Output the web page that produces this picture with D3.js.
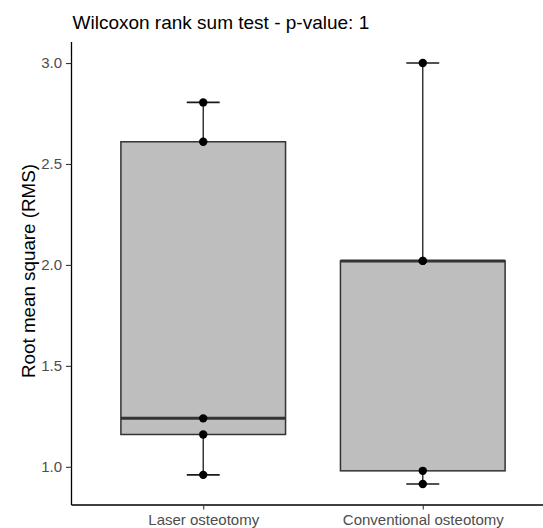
<!DOCTYPE html>
<html>
<head>
<meta charset="utf-8">
<script src="https://cdn.jsdelivr.net/npm/d3@7"></script>
<style>
  body { margin: 0; background: #fff; }
  svg { display: block; font-family: "Liberation Sans", Arial, sans-serif; }
</style>
</head>
<body>
<div id="chart"></div>
<script>
// data
const groups = ["Laser osteotomy", "Conventional osteotomy"];
const laserValues = [0.96, 1.16, 1.24, 2.61, 2.805];
const conventionalValues = [0.915, 0.98, 2.02, 2.02, 3.0];
const yTicks = [1.0, 1.5, 2.0, 2.5, 3.0];
const titleText = "Wilcoxon rank sum test - p-value: 1";
const yLabel = "Root mean square (RMS)";

const width = 543, height = 528;
const margin = {top: 42, left: 71.5, bottom: 505, right: 554.5};

const svg = d3.select("#chart").append("svg")
  .attr("width", width)
  .attr("height", height);

const series = [laserValues, conventionalValues].map((vals, i) => {
  const s = vals.slice().sort(d3.ascending);
  const q1 = d3.quantile(s, 0.25), med = d3.quantile(s, 0.5), q3 = d3.quantile(s, 0.75);
  const iqr = q3 - q1;
  const lo = d3.min(s.filter(v => v >= q1 - 1.5 * iqr));
  const hi = d3.max(s.filter(v => v <= q3 + 1.5 * iqr));
  return {name: groups[i], values: s, q1, med, q3, lo, hi};
});

const allVals = laserValues.concat(conventionalValues);
const yMin = d3.min(allVals), yMax = d3.max(allVals);
const pad = (yMax - yMin) * 0.05;

const y = d3.scaleLinear()
  .domain([yMin - pad, yMax + pad])
  .range([margin.bottom, margin.top]);

const x = d3.scalePoint()
  .domain(groups)
  .range([margin.left, margin.right])
  .padding(0.6);

const step = x.step();
const boxW = step * 0.75;
const capW = step * 0.15;

const g = svg.append("g");

// whiskers
series.forEach(d => {
  const cx = x(d.name);
  g.append("line").attr("x1", cx).attr("x2", cx).attr("y1", y(d.hi)).attr("y2", y(d.q3))
    .attr("stroke", "#1a1a1a").attr("stroke-width", 1.3);
  g.append("line").attr("x1", cx).attr("x2", cx).attr("y1", y(d.lo)).attr("y2", y(d.q1))
    .attr("stroke", "#1a1a1a").attr("stroke-width", 1.3);
  [d.lo, d.hi].forEach(v => {
    g.append("line").attr("x1", cx - capW / 2).attr("x2", cx + capW / 2)
      .attr("y1", y(v)).attr("y2", y(v))
      .attr("stroke", "#1a1a1a").attr("stroke-width", 1.6);
  });
});

// boxes
g.selectAll(".box").data(series).enter().append("rect")
  .attr("class", "box")
  .attr("x", d => x(d.name) - boxW / 2)
  .attr("width", boxW)
  .attr("y", d => y(d.q3))
  .attr("height", d => y(d.q1) - y(d.q3))
  .attr("fill", "#bebebe")
  .attr("stroke", "#333333")
  .attr("stroke-width", 1.5);

g.selectAll(".median").data(series).enter().append("line")
  .attr("class", "median")
  .attr("x1", d => x(d.name) - boxW / 2)
  .attr("x2", d => x(d.name) + boxW / 2)
  .attr("y1", d => y(d.med))
  .attr("y2", d => y(d.med))
  .attr("stroke", "#333333")
  .attr("stroke-width", 3);

// points
series.forEach(d => {
  g.selectAll(null).data(d.values).enter().append("circle")
    .attr("cx", x(d.name))
    .attr("cy", v => y(v))
    .attr("r", 4.2)
    .attr("fill", "#000");
});

// axes
const yAxis = svg.append("g")
  .attr("transform", `translate(${margin.left},0)`)
  .call(d3.axisLeft(y).tickValues(yTicks).tickFormat(d3.format(".1f")).tickSize(5.5).tickPadding(4));
yAxis.select(".domain").attr("stroke", "#000").attr("stroke-width", 1.3)
  .attr("d", `M0,${margin.top}V${margin.bottom}`);
yAxis.selectAll(".tick line").attr("stroke", "#333").attr("stroke-width", 1.1);
yAxis.selectAll(".tick text").attr("fill", "#4d4d4d").style("font-size", "15px")
  .style("font-family", "Liberation Sans, Arial, sans-serif");

const xAxis = svg.append("g")
  .attr("transform", `translate(0,${margin.bottom})`)
  .call(d3.axisBottom(x).tickSize(4.5).tickPadding(5));
xAxis.select(".domain").attr("stroke", "#000").attr("stroke-width", 1.3)
  .attr("d", `M${margin.left},0H${margin.right}`);
xAxis.selectAll(".tick line").attr("stroke", "#333").attr("stroke-width", 1.1);
xAxis.selectAll(".tick text").attr("fill", "#4d4d4d").style("font-size", "15px")
  .style("font-family", "Liberation Sans, Arial, sans-serif");

// titles
svg.append("text")
  .attr("x", 72.5)
  .attr("y", 29.3)
  .style("font-size", "19px")
  .attr("fill", "#000")
  .text(titleText);

svg.append("text")
  .attr("transform", `translate(34.5,271) rotate(-90)`)
  .attr("text-anchor", "middle")
  .style("font-size", "18.8px")
  .attr("fill", "#000")
  .text(yLabel);
</script>
</body>
</html>
